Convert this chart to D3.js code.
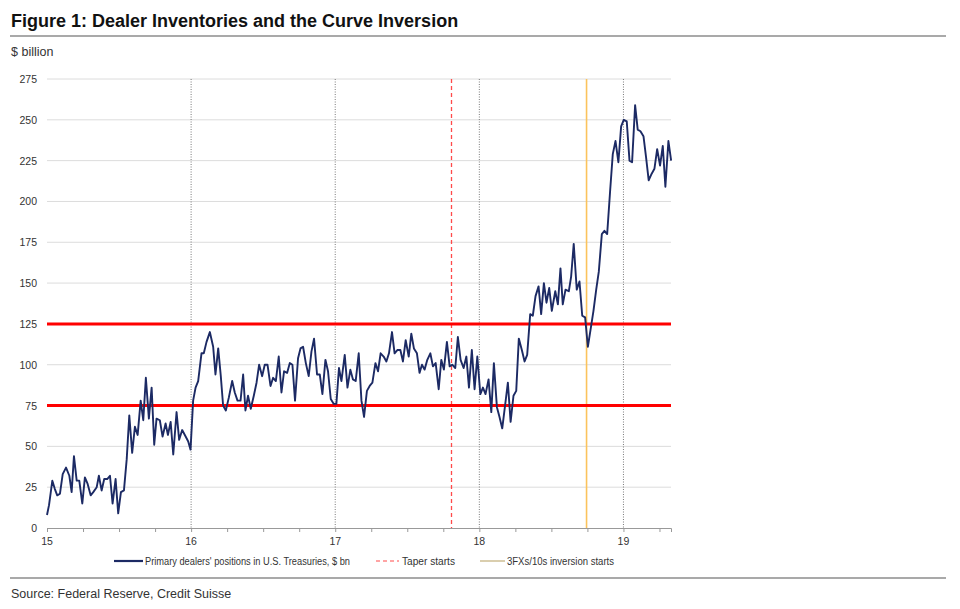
<!DOCTYPE html>
<html><head><meta charset="utf-8">
<script src="https://cdn.jsdelivr.net/npm/d3@7"></script>
<style>body{margin:0;background:#fff}svg{display:block}</style>
</head><body><svg id="c" width="960" height="609"></svg>
<script>
// ---- data (year since 2000, $ bn) ----
const years = [15.000,15.014,15.037,15.054,15.071,15.090,15.109,15.132,15.155,15.171,15.187,15.206,15.224,15.245,15.263,15.282,15.303,15.321,15.345,15.360,15.379,15.397,15.418,15.437,15.455,15.476,15.494,15.513,15.534,15.553,15.571,15.591,15.610,15.629,15.650,15.668,15.686,15.707,15.726,15.744,15.760,15.783,15.802,15.823,15.839,15.858,15.876,15.899,15.917,15.938,15.962,15.980,15.996,
16.014,16.031,16.049,16.072,16.088,16.107,16.130,16.153,16.169,16.188,16.206,16.222,16.241,16.262,16.285,16.303,16.322,16.343,16.361,16.377,16.395,16.414,16.435,16.454,16.472,16.493,16.511,16.530,16.551,16.569,16.588,16.608,16.627,16.645,16.666,16.685,16.703,16.721,16.742,16.759,16.777,16.796,16.816,16.835,16.853,16.874,16.893,16.911,16.932,16.950,16.969,16.990,
17.008,17.026,17.043,17.066,17.085,17.105,17.123,17.142,17.163,17.182,17.200,17.220,17.239,17.258,17.279,17.297,17.315,17.336,17.355,17.373,17.394,17.412,17.431,17.452,17.470,17.489,17.510,17.528,17.546,17.567,17.585,17.602,17.620,17.639,17.660,17.678,17.697,17.718,17.736,17.754,17.775,17.794,17.812,17.833,17.851,17.870,17.891,17.910,17.928,17.948,17.967,17.986,
18.007,18.025,18.043,18.064,18.083,18.101,18.122,18.140,18.159,18.180,18.198,18.217,18.237,18.256,18.274,18.295,18.314,18.332,18.353,18.371,18.390,18.411,18.429,18.448,18.466,18.485,18.503,18.527,18.545,18.563,18.579,18.598,18.621,18.637,18.655,18.676,18.695,18.714,18.734,18.753,18.771,18.792,18.811,18.829,18.850,18.868,18.887,18.908,18.926,18.945,18.965,18.984,
19.002,19.023,19.042,19.060,19.081,19.099,19.118,19.139,19.157,19.175,19.196,19.215,19.234,19.254,19.273,19.291,19.312,19.331];
const positions = [8,14,29,24,20,21,33,37,32,22,44,29,29,15,31,27,20,22,25,32,23,30,30,32,15,30,9,22,23,42,69,46,62,57,78,66,92,67,86,51,67,66,56,64,57,65,45,71,54,60,56,53,48,
78,86,90,107,107,114,120,111,94,110,93,75,72,80,90,83,78,78,94,72,81,73,81,89,100,93,100,100,87,92,90,105,83,96,95,101,100,78,104,110,111,101,93,108,116,94,94,82,103,96,79,76,
76,98,90,106,86,97,91,90,107,78,68,84,87,89,101,96,107,105,102,107,120,107,109,109,102,115,105,119,110,107,95,100,97,103,107,99,101,85,103,97,114,99,100,98,117,103,98,105,86,109,85,105,
82,86,82,91,71,101,74,68,61,76,89,65,81,84,116,109,102,106,131,130,142,148,131,150,138,147,133,145,137,159,137,146,145,154,174,146,151,130,129,111,121,133,146,157,180,182,180,207,229,237,224,246,
250,249,225,224,259,244,243,240,227,213,217,220,232,222,234,209,237,225];
const yTicks = [0,25,50,75,100,125,150,175,200,225,250,275];
const xLabels = [15,16,17,18,19];
const xMinorTicks = [15,15.25,15.5,15.75,16,16.25,16.5,16.75,17,17.25,17.5,17.75,18,18.25,18.5,18.75,19,19.25];
const bandLines = [75,125];
const taperStart = 17.806;
const inversionStart = 18.744;
const seriesName = "Primary dealers' positions in U.S. Treasuries, $ bn";
const taperName = "Taper starts";
const inversionName = "3FXs/10s inversion starts";

const svg = d3.select('#c');
const FONT = "'Liberation Sans', Arial, Helvetica, sans-serif";
const NARROW = "'Liberation Sans Narrow', 'Arial Narrow', 'Liberation Sans', Arial, sans-serif";
svg.append('rect').attr('width',960).attr('height',609).attr('fill','#fff');

// title
svg.append('text').attr('x',11).attr('y',27).attr('font-family',FONT).attr('font-weight','bold')
  .attr('font-size',18).attr('fill','#111').text('Figure 1: Dealer Inventories and the Curve Inversion');
svg.append('line').attr('x1',10).attr('x2',946).attr('y1',36).attr('y2',36).attr('stroke','#8c8c8c').attr('stroke-width',1.6);
svg.append('text').attr('x',11).attr('y',56).attr('font-family',FONT).attr('font-size',12.5).attr('fill','#333').text('$ billion');

const x = d3.scaleLinear().domain([15,19.33]).range([47,671]);
const y = d3.scaleLinear().domain([0,275]).range([528,79]);

// gridlines
svg.append('g').selectAll('line').data(yTicks.filter(d=>d>0)).join('line')
  .attr('x1',x(15)).attr('x2',x(19.33)).attr('y1',d=>y(d)).attr('y2',d=>y(d))
  .attr('stroke','#dcdcdc').attr('stroke-width',1);
// y labels
svg.append('g').selectAll('text').data(yTicks).join('text')
  .attr('x',37).attr('y',d=>y(d)+4).attr('text-anchor','end')
  .attr('font-family',FONT).attr('font-size',10.5).attr('fill','#333').text(d=>d);

// vertical year lines (dotted)
svg.append('g').selectAll('line').data(xLabels.filter(d=>d>15)).join('line')
  .attr('x1',d=>x(d)).attr('x2',d=>x(d)).attr('y1',y(275)).attr('y2',y(0))
  .attr('stroke','#7a7a7a').attr('stroke-width',1).attr('stroke-dasharray','1,1.5');

// x axis
const xAxis = d3.axisBottom(x).tickValues(xMinorTicks).tickSize(4).tickFormat('');
const gx = svg.append('g').attr('transform',`translate(0,${y(0)})`).call(xAxis);
gx.select('.domain').attr('stroke','#999');
gx.selectAll('.tick line').attr('stroke','#999');
svg.append('g').selectAll('text').data(xLabels).join('text')
  .attr('x',d=>x(d)).attr('y',545).attr('text-anchor','middle')
  .attr('font-family',FONT).attr('font-size',10.5).attr('fill','#333').text(d=>d);

// event lines
const tx = Math.round(x(taperStart)) + 0.5;
svg.append('line').attr('x1',tx).attr('x2',tx).attr('y1',y(275)).attr('y2',y(0))
  .attr('stroke','#ff4a4a').attr('stroke-width',1.3).attr('stroke-dasharray','4,3');
svg.append('line').attr('x1',x(inversionStart)).attr('x2',x(inversionStart)).attr('y1',y(275)).attr('y2',y(0))
  .attr('stroke','#fbc35c').attr('stroke-width',1.6);

// band lines
svg.append('g').selectAll('line').data(bandLines).join('line')
  .attr('x1',x(15)).attr('x2',x(19.33)).attr('y1',d=>y(d)).attr('y2',d=>y(d))
  .attr('stroke','#ff0000').attr('stroke-width',3);

// series
const pts = years.map((t,i)=>[t,positions[i]]);
svg.append('path').datum(pts)
  .attr('d',d3.line().x(d=>x(d[0])).y(d=>y(d[1])))
  .attr('fill','none').attr('stroke','#1c2a64').attr('stroke-width',1.9).attr('stroke-linejoin','round');

// legend
const ly = 561;
const lg = svg.append('g');
lg.append('line').attr('x1',114).attr('x2',143).attr('y1',ly).attr('y2',ly).attr('stroke','#1c2a64').attr('stroke-width',2.2);
lg.append('text').attr('x',145).attr('y',ly+3.5).attr('font-family',NARROW).attr('font-size',10)
  .attr('textLength',205).attr('lengthAdjust','spacingAndGlyphs').attr('fill','#333').text(seriesName);
lg.append('line').attr('x1',376).attr('x2',399).attr('y1',ly).attr('y2',ly).attr('stroke','#ff4a4a').attr('stroke-width',1.2).attr('stroke-dasharray','4,3');
lg.append('text').attr('x',402).attr('y',ly+3.5).attr('font-family',NARROW).attr('font-size',10)
  .attr('textLength',53).attr('lengthAdjust','spacingAndGlyphs').attr('fill','#333').text(taperName);
lg.append('line').attr('x1',480).attr('x2',505).attr('y1',ly).attr('y2',ly).attr('stroke','#cbb98c').attr('stroke-width',1.4);
lg.append('text').attr('x',507).attr('y',ly+3.5).attr('font-family',NARROW).attr('font-size',10)
  .attr('textLength',107).attr('lengthAdjust','spacingAndGlyphs').attr('fill','#333').text(inversionName);

// footer
svg.append('line').attr('x1',10).attr('x2',946).attr('y1',578).attr('y2',578).attr('stroke','#8c8c8c').attr('stroke-width',1.6);
svg.append('text').attr('x',11).attr('y',598).attr('font-family',FONT).attr('font-size',12.5).attr('fill','#333').text('Source: Federal Reserve, Credit Suisse');
</script></body></html>
